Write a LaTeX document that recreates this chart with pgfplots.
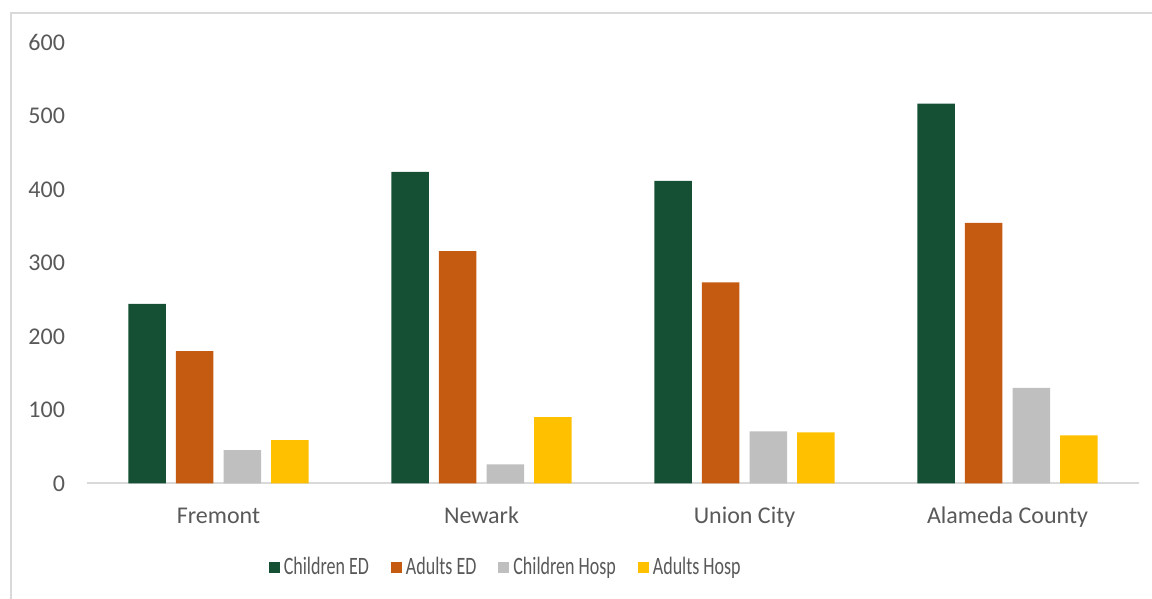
\documentclass[border=0pt]{standalone}
\usepackage{pgfplots}
\pgfplotsset{compat=1.18}
\usepackage{fontspec}
\usepackage{graphicx}
\setmainfont{Carlito}
\definecolor{cED}{HTML}{155034}
\definecolor{aED}{HTML}{C55A11}
\definecolor{cH}{HTML}{BFBFBF}
\definecolor{aH}{HTML}{FFC000}
\definecolor{txt}{HTML}{595959}
\definecolor{brd}{HTML}{D9D9D9}
\begin{document}
\begin{tikzpicture}
\useasboundingbox (0,0) rectangle (576pt,299.5pt);
\draw[brd, line width=1pt] (5.5pt,0) -- (5.5pt,293pt) -- (576pt,293pt);
\begin{axis}[
  at={(43.5pt,57.85pt)}, anchor=south west,
  scale only axis, width=526pt, height=220.5pt,
  xmin=-0.5, xmax=3.5, ymin=0, ymax=600,
  ytick={0,100,...,600},
  xtick={0,1,2,3},
  xticklabels={Fremont,Newark,Union City,Alameda County},
  axis lines*=left,
  x axis line style={draw=brd, line width=1pt},
  y axis line style={draw=none},
  major tick length=0pt,
  tick style={draw=none},
  tick label style={font=\fontsize{12}{14}\selectfont, text=txt},
  /pgf/number format/assume math mode=true,
  yticklabel style={xshift=-7.5pt},
  xticklabel style={anchor=base, yshift=-20pt},
  bar width=0.1426,
  legend style={at={(0.399,-0.19)}, anchor=center, draw=none,
    font=\fontsize{12.5}{14}\selectfont, text=txt,
    /tikz/every even column/.append style={column sep=9pt}},
  legend cell align=left,
  legend columns=4,
  legend image code/.code={\fill[#1] (0pt,-2.75pt) rectangle (5.5pt,2.75pt);},
]
\addplot[ybar, bar shift=-0.2715, fill=cED, draw=none] coordinates {(0,244.2) (1,423.7) (2,411.4) (3,516.6)};
\addplot[ybar, bar shift=-0.0905, fill=aED, draw=none] coordinates {(0,179.9) (1,315.8) (2,273.3) (3,354.4)};
\addplot[ybar, bar shift=0.0905, fill=cH, draw=none] coordinates {(0,45.3) (1,25.8) (2,70.7) (3,129.8)};
\addplot[ybar, bar shift=0.2715, fill=aH, draw=none] coordinates {(0,58.9) (1,90.1) (2,69.3) (3,65.3)};
\legend{\scalebox{0.72}[1]{Children ED},\scalebox{0.72}[1]{Adults ED},\scalebox{0.72}[1]{Children Hosp},\scalebox{0.72}[1]{Adults Hosp}}
\end{axis}
\end{tikzpicture}
\end{document}
